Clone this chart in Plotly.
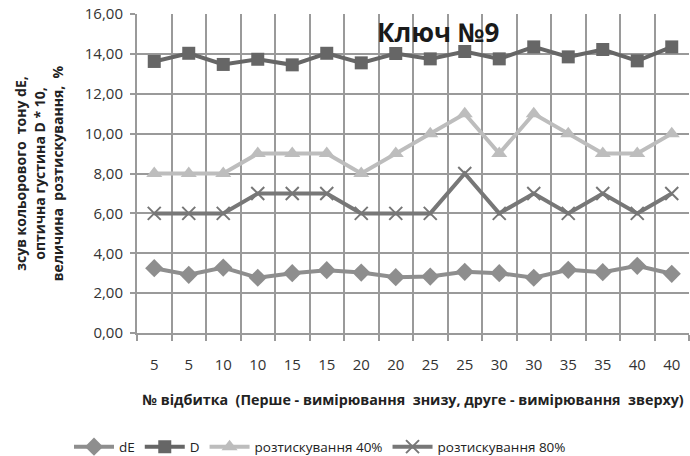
import plotly.graph_objects as go

labels = ["5", "5", "10", "10", "15", "15", "20", "20", "25", "25", "30", "30", "35", "35", "40", "40"]
dE = [3.25, 2.92, 3.28, 2.77, 3.0, 3.15, 3.03, 2.8, 2.83, 3.07, 3.0, 2.77, 3.17, 3.05, 3.37, 2.97]
D = [13.62, 14.03, 13.47, 13.73, 13.45, 14.03, 13.55, 14.02, 13.75, 14.12, 13.75, 14.35, 13.85, 14.22, 13.65, 14.35]
r40 = [8, 8, 8, 9, 9, 9, 8, 9, 10, 11, 9, 11, 10, 9, 9, 10]
r80 = [6, 6, 6, 7, 7, 7, 6, 6, 6, 8, 6, 7, 6, 7, 6, 7]
yticks = [0, 2, 4, 6, 8, 10, 12, 14, 16]
ytext = [("%.2f" % v).replace(".", ",") for v in yticks]

x = list(range(len(labels)))
FONT = "Open Sans"
GRID = "#9a9a9a"

fig = go.Figure()
fig.add_trace(go.Scatter(x=x, y=dE, name="dE", mode="lines+markers",
                         line=dict(color="#8e8e8e", width=4),
                         marker=dict(symbol="diamond", size=14, color="#8e8e8e")))
fig.add_trace(go.Scatter(x=x, y=D, name="D", mode="lines+markers",
                         line=dict(color="#666666", width=4),
                         marker=dict(symbol="square", size=13, color="#666666")))
fig.add_trace(go.Scatter(x=x, y=r40, name="розтискування 40%", mode="lines+markers",
                         line=dict(color="#bdbdbd", width=4),
                         marker=dict(symbol="triangle-up", size=14, color="#bdbdbd")))
fig.add_trace(go.Scatter(x=x, y=r80, name="розтискування 80%", mode="lines+markers",
                         line=dict(color="#777777", width=4),
                         marker=dict(symbol="x-thin", size=13, color="#777777",
                                     line=dict(color="#777777", width=2))))
# invisible trace so the label axis (x2) is drawn
fig.add_trace(go.Scatter(x=x, y=[None] * len(x), xaxis="x2", mode="lines",
                         showlegend=False, hoverinfo="skip"))

fig.update_layout(
    width=690, height=456,
    margin=dict(l=137, r=1, t=14, b=123, autoexpand=False),
    paper_bgcolor="white", plot_bgcolor="white",
    font=dict(family=FONT, color="#222222", size=14),
    showlegend=True,
    legend=dict(orientation="h", x=0.1, xref="container", y=0.02, yref="container",
                yanchor="middle", xanchor="left",
                font=dict(family=FONT, size=13.5, color="#222222"),
                traceorder="normal", itemwidth=40),
    xaxis=dict(range=[-0.5, 15.5], tick0=-0.5, dtick=1, showticklabels=False,
               showgrid=True, gridcolor=GRID, gridwidth=2, zeroline=False,
               ticks="outside", ticklen=6, tickcolor=GRID, tickwidth=2,
               showline=True, linecolor=GRID, linewidth=2),
    xaxis2=dict(range=[-0.5, 15.5], overlaying="x", side="bottom", anchor="y",
                tickvals=x, ticktext=labels, showgrid=False, zeroline=False,
                ticks="", showline=False, ticklabelstandoff=21,
                tickfont=dict(size=15, family=FONT, color="#333333"),
                title=dict(text="<b>№ відбитка  (Перше - вимірювання  знизу, друге - вимірювання  зверху)</b>",
                           font=dict(size=14.3, family=FONT, color="#222222"), standoff=21)),
    yaxis=dict(range=[0, 16], tickvals=yticks, ticktext=ytext,
               showgrid=True, gridcolor=GRID, gridwidth=2, zeroline=False,
               ticks="outside", ticklen=5, tickcolor=GRID, tickwidth=2,
               showline=True, linecolor=GRID, linewidth=2, ticklabelstandoff=4,
               tickfont=dict(size=15, family=FONT, color="#333333"),
               title=dict(text="<b>зсув кольорового  тону dE,<br>оптична густина D * 10,<br>величина  розтискування,  %</b>",
                          font=dict(size=14, family=FONT, color="#222222"), standoff=18)),
)
fig.add_annotation(text="<b>Ключ №9</b>", x=(438 - 137) / 552, y=1 - (32 - 14) / 319,
                   xref="paper", yref="paper", xanchor="center", yanchor="middle",
                   showarrow=False, font=dict(size=26, family=FONT, color="#1a1a1a"))

fig.write_html("out.html", config={"displayModeBar": False},
               post_script="document.body.style.margin='0';document.body.style.overflow='hidden';")
